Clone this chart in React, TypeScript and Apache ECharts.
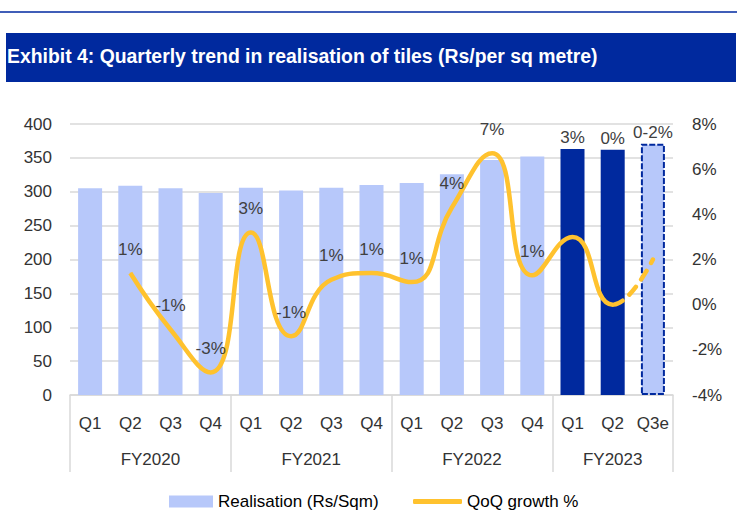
import { useEffect, useRef } from 'react';
import * as echarts from 'echarts';

const quarters = ['Q1', 'Q2', 'Q3', 'Q4', 'Q1', 'Q2', 'Q3', 'Q4', 'Q1', 'Q2', 'Q3', 'Q4', 'Q1', 'Q2', 'Q3e'];
const fiscalYears = ['FY2020', 'FY2021', 'FY2022', 'FY2023'];
const quartersPerYear = [4, 4, 4, 3];
const realisation = [305, 309, 305, 298, 306, 302, 306, 310, 313, 326, 347, 352, 363, 362, 371];
const qoqGrowth = [null, 1.4, -1.1, -3.0, 3.2, -1.4, 1.1, 1.4, 1.0, 4.3, 6.7, 1.3, 3.0, 0.0, 2.0];
const growthLabels = ['', '1%', '-1%', '-3%', '3%', '-1%', '1%', '1%', '1%', '4%', '7%', '1%', '3%', '0%', '0-2%'];
const leftTicks = { min: 0, max: 400, interval: 50 };
const rightTicks = { min: -4, max: 8, interval: 2 };
const actualHighlight = [12, 13];
const estimateIdx = 14;
const lastActualIdx = 13;
const labelOnBar = [12, 13, 14];

const LIGHT = '#B7C8FA';
const DARK = '#00299E';
const YELLOW = '#FFC22E';
const CLEAR = 'rgba(255,194,46,0)';
const FONT = "'Liberation Sans', Arial, sans-serif";

function buildOption() {
  // group axis: half-quarter resolution points
  const total = quartersPerYear.reduce((a, b) => a + b, 0) * 2;
  const groupData: string[] = new Array(total + 1).fill('');
  const boundaries: number[] = [0];
  const centers: number[] = [];
  let acc = 0;
  quartersPerYear.forEach((n, i) => {
    const start = acc;
    acc += n * 2;
    boundaries.push(acc);
    const c = (start + acc) / 2;
    centers.push(c);
    groupData[c] = fiscalYears[i];
  });

  const barData = realisation.map((v, i) => {
    const item: any = { value: v };
    if (actualHighlight.includes(i)) item.itemStyle = { color: DARK };
    if (i === estimateIdx)
      item.itemStyle = { color: LIGHT, borderColor: DARK, borderWidth: 2, borderType: [6, 2] };
    return item;
  });

  // fraction of the line's horizontal extent where the estimate begins
  const firstIdx = qoqGrowth.findIndex((v) => v !== null);
  const lastIdx = qoqGrowth.length - 1;
  const f = (lastActualIdx - firstIdx) / (lastIdx - firstIdx);
  const solidColor = new echarts.graphic.LinearGradient(0, 0, 1, 0, [
    { offset: 0, color: YELLOW },
    { offset: f, color: YELLOW },
    { offset: f, color: CLEAR },
    { offset: 1, color: CLEAR },
  ]);
  const dashedColor = new echarts.graphic.LinearGradient(0, 0, 1, 0, [
    { offset: 0, color: CLEAR },
    { offset: f, color: CLEAR },
    { offset: f, color: YELLOW },
    { offset: 1, color: YELLOW },
  ]);

  return {
    animation: false,
    backgroundColor: '#fff',
    textStyle: { fontFamily: FONT },
    graphic: [
      { type: 'line', shape: { x1: 0, y1: 12, x2: 737, y2: 12 }, style: { stroke: '#0028A0', lineWidth: 1.5 } },
      { type: 'rect', shape: { x: 6, y: 33, width: 730, height: 49 }, style: { fill: DARK }, z: -1 },
    ],
    title: {
      text: 'Exhibit 4: Quarterly trend in realisation of tiles (Rs/per sq metre)',
      left: 7,
      top: 46,
      padding: 0,
      textStyle: { color: '#fff', fontSize: 19.4, fontWeight: 'bold', fontFamily: FONT },
    },
    legend: [
      {
        data: ['Realisation (Rs/Sqm)'],
        left: 169,
        top: 493,
        itemWidth: 44,
        itemHeight: 12,
        icon: 'rect',
        padding: 0,
        textStyle: { color: '#000', fontSize: 17, fontFamily: FONT },
      },
      {
        data: ['QoQ growth %'],
        left: 413,
        top: 493,
        itemWidth: 49,
        itemHeight: 5,
        icon: 'roundRect',
        padding: 0,
        itemStyle: { color: YELLOW, opacity: 1 },
        textStyle: { color: '#000', fontSize: 17, fontFamily: FONT },
      },
    ],
    grid: { left: 70, right: 74, top: 124, bottom: 134 },
    xAxis: [
      {
        type: 'category',
        data: quarters,
        axisLine: { onZero: false, lineStyle: { color: '#D9D9D9', width: 1.5 } },
        axisTick: { show: false },
        axisLabel: { color: '#333', fontSize: 17, margin: 20, interval: 0, fontFamily: FONT },
      },
      {
        type: 'category',
        position: 'bottom',
        boundaryGap: false,
        data: groupData,
        axisLine: { show: false, onZero: false },
        axisTick: {
          show: true,
          length: 77,
          interval: (i: number) => boundaries.includes(i),
          lineStyle: { color: '#D9D9D9', width: 1.5 },
        },
        axisLabel: {
          color: '#333',
          fontSize: 17,
          margin: 56,
          fontFamily: FONT,
          interval: (i: number) => centers.includes(i),
        },
      },
    ],
    yAxis: [
      {
        type: 'value',
        ...leftTicks,
        axisLine: { show: false },
        axisTick: { show: false },
        splitLine: { lineStyle: { color: '#D9D9D9', width: 1.5 } },
        axisLabel: { color: '#333', fontSize: 17, margin: 18, fontFamily: FONT },
      },
      {
        type: 'value',
        ...rightTicks,
        axisLine: { show: false },
        axisTick: { show: false },
        splitLine: { show: false },
        axisLabel: { color: '#333', fontSize: 17, margin: 19, formatter: '{value}%', fontFamily: FONT },
      },
    ],
    series: [
      {
        name: 'Realisation (Rs/Sqm)',
        type: 'bar',
        barWidth: 24,
        itemStyle: { color: LIGHT },
        data: barData,
        label: {
          show: true,
          position: 'top',
          distance: 3,
          color: '#404040',
          fontSize: 17,
          fontFamily: FONT,
          formatter: (p: any) => (labelOnBar.includes(p.dataIndex) ? growthLabels[p.dataIndex] : ''),
        },
      },
      {
        name: 'QoQ growth %',
        type: 'line',
        yAxisIndex: 1,
        smooth: true,
        showSymbol: true,
        symbol: 'circle',
        symbolSize: 1,
        itemStyle: { color: YELLOW },
        lineStyle: { width: 4.5, color: solidColor },
        data: qoqGrowth,
        label: {
          show: true,
          position: 'top',
          distance: 15,
          color: '#404040',
          fontSize: 17,
          fontFamily: FONT,
          formatter: (p: any) => (labelOnBar.includes(p.dataIndex) ? '' : growthLabels[p.dataIndex]),
        },
        z: 3,
      },
      {
        name: 'QoQ growth % (estimate)',
        type: 'line',
        yAxisIndex: 1,
        smooth: true,
        showSymbol: false,
        itemStyle: { color: YELLOW },
        lineStyle: { width: 4.5, type: [10, 9], cap: 'round', color: dashedColor },
        data: qoqGrowth,
        z: 3,
      },
    ],
  };
}

export default function App() {
  const ref = useRef<HTMLDivElement>(null);
  useEffect(() => {
    if (!ref.current) return;
    const chart = echarts.init(ref.current, null, { renderer: 'svg' });
    chart.setOption(buildOption() as any);
    return () => chart.dispose();
  }, []);
  return (
    <div
      ref={ref}
      style={{ position: 'fixed', left: 0, top: 0, width: 747, height: 529, background: '#fff' }}
    />
  );
}
